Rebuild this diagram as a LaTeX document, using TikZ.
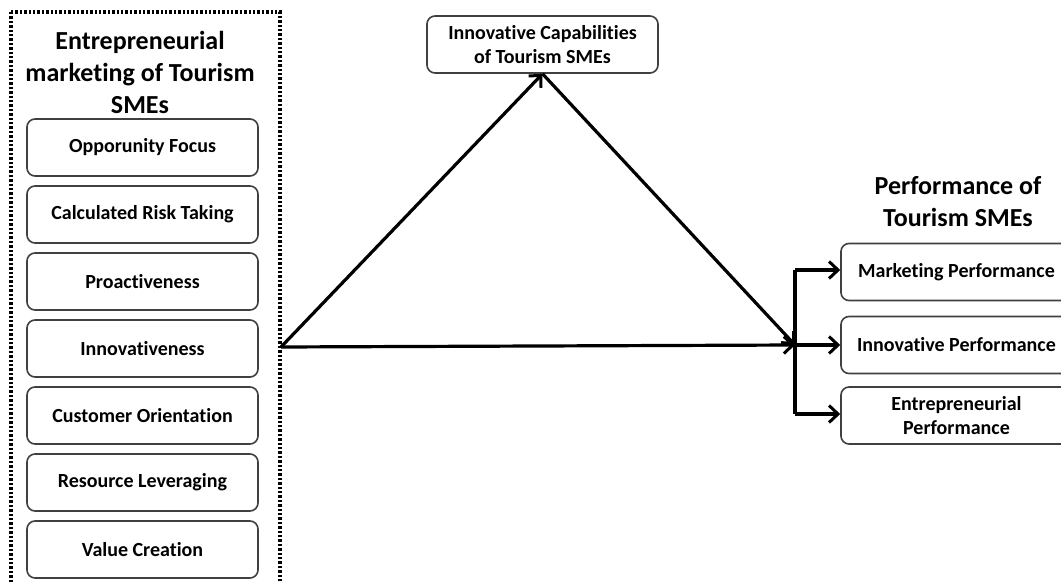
\documentclass[tikz,border=0pt]{standalone}
\usepackage{fontspec}
\setmainfont[Ligatures={NoCommon}]{Carlito}
\usetikzlibrary{arrows.meta}
\begin{document}
\begin{tikzpicture}[x=1pt,y=-1pt,
  item/.style={draw=black!75,line width=1.6pt,rounded corners=8pt,minimum width=231pt,minimum height=57pt,font=\fontsize{20}{24}\selectfont\bfseries,align=center,inner sep=0pt},
  ttl/.style={font=\fontsize{26}{32}\selectfont\bfseries,align=center,inner sep=0pt},
  conn/.style={line width=3.2pt,-{Straight Barb[length=9pt,width=17pt,line width=3pt]}},
  seg/.style={line width=3.2pt}]
\useasboundingbox (0,0) rectangle (1061,583);
\clip (0,0) rectangle (1061,583);
\fill[white] (0,0) rectangle (1061,583);
% left group
\draw[line width=3.4pt,dash pattern=on 2.4pt off 2pt] (11,12) rectangle (280,600);
\node[ttl] (lt) at (140,72) {Entrepreneurial\\marketing of Tourism\\SMEs};
\node[item] (b1) at (142.5,147.5) {Opporunity Focus};
\node[item] (b2) at (142.5,214.5) {Calculated Risk Taking};
\node[item] (b3) at (142.5,281.5) {Proactiveness};
\node[item] (b4) at (142.5,348.5) {Innovativeness};
\node[item] (b5) at (142.5,415.5) {Customer Orientation};
\node[item] (b6) at (142.5,482.5) {Resource Leveraging};
\node[item] (b7) at (142.5,549.5) {Value Creation};
% top
\node[item] (ic) at (542.5,44.5) {Innovative Capabilities\\of Tourism SMEs};
% right
\node[ttl] (rt) at (958,202) {Performance of\\Tourism SMEs};
\node[item] (p1) at (956.5,272) {Marketing Performance};
\node[item] (p2) at (956.5,345) {Innovative Performance};
\node[item] (p3) at (956.5,415.5) {Entrepreneurial\\Performance};
% connectors
\coordinate (src) at (281,347);
\coordinate (J) at (795,345);
\coordinate (Jt) at (795,270);
\coordinate (Jb) at (795,414);
\draw[conn] (src) -- (ic.south);
\draw[conn] (ic.south) -- (J);
\draw[conn] (src) -- (J);
\draw[seg] (Jt) -- (Jb);
\draw[conn] (Jt) -- (Jt -| p1.west);
\draw[conn] (J) -- (J -| p2.west);
\draw[conn] (Jb) -- (Jb -| p3.west);
\end{tikzpicture}
\end{document}
